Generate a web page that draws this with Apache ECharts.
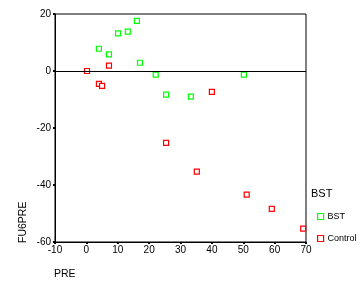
<!DOCTYPE html>
<html><head><meta charset="utf-8">
<script src="https://cdn.jsdelivr.net/npm/echarts@6/dist/echarts.min.js"></script>
<style>html,body{margin:0;padding:0;background:#fff}#c{width:362px;height:290px}</style>
</head><body><div id="c"></div>
<script>
var xTicks = [-10, 0, 10, 20, 30, 40, 50, 60, 70];
var yTicks = [-60, -40, -20, 0, 20];
var bstPoints = [[4.0, 7.8], [7.2, 5.8], [10.1, 13.2], [13.2, 13.8], [16.1, 17.6], [17.1, 2.9], [22.1, -1.3], [25.4, -8.3], [33.3, -9.0], [50.2, -1.3]];
var controlPoints = [[0.2, 0.0], [4.0, -4.5], [5.0, -5.2], [7.2, 1.9], [25.4, -25.2], [35.2, -35.3], [40.0, -7.3], [51.1, -43.4], [59.1, -48.4], [69.1, -55.3]];
var seriesNames = ['BST', 'Control'];
var legendTitle = 'BST';
var xName = 'PRE';
var yName = 'FU6PRE';

var font = 'Liberation Sans, Arial, sans-serif';
var chart = echarts.init(document.getElementById('c'), null, {renderer: 'canvas'});
function mk(name, data, color) {
  return {
    name: name, type: 'scatter', data: data, symbol: 'rect', symbolSize: 5,
    itemStyle: {color: '#fff', borderColor: color, borderWidth: 1.2, opacity: 1},
    emphasis: {disabled: true}, animation: false, z: 3
  };
}
var s1 = mk(seriesNames[0], bstPoints, '#00ff00');
s1.markLine = {silent: true, symbol: 'none', label: {show: false},
  lineStyle: {color: '#000', width: 1, type: 'solid'}, data: [{yAxis: 0}], animation: false};
var s2 = mk(seriesNames[1], controlPoints, '#ff0000');
chart.setOption({
  animation: false,
  backgroundColor: '#fff',
  grid: {left: 55, right: 56, top: 14, bottom: 48, show: true, borderColor: '#000', borderWidth: 1, backgroundColor: 'transparent'},
  xAxis: {
    type: 'value', min: xTicks[0], max: xTicks[xTicks.length - 1], interval: 10,
    axisLine: {onZero: false, lineStyle: {color: '#000', width: 1}},
    axisTick: {show: true, length: 2, lineStyle: {color: '#000', width: 2}},
    axisLabel: {color: '#000', fontSize: 10, fontFamily: font, margin: 3},
    splitLine: {show: false}
  },
  yAxis: {
    type: 'value', min: yTicks[0], max: yTicks[yTicks.length - 1], interval: 20,
    axisLine: {onZero: false, lineStyle: {color: '#000', width: 1}},
    axisTick: {show: true, length: 2, lineStyle: {color: '#000', width: 2}},
    axisLabel: {color: '#000', fontSize: 10, fontFamily: font, margin: 4},
    splitLine: {show: false}
  },
  title: {text: legendTitle, left: 311, top: 188, textStyle: {fontSize: 11, fontWeight: 'normal', color: '#000', fontFamily: font}, padding: 0},
  legend: {
    orient: 'vertical', left: 317, top: 212, itemWidth: 6, itemHeight: 6, itemGap: 13, padding: 0,
    textStyle: {fontSize: 9, color: '#000', fontFamily: font, padding: [0, 0, 0, -1]},
    data: [
      {name: seriesNames[0], icon: 'rect', itemStyle: {color: '#fff', borderColor: '#00ff00', borderWidth: 1.2}},
      {name: seriesNames[1], icon: 'rect', itemStyle: {color: '#fff', borderColor: '#ff0000', borderWidth: 1.2}}
    ]
  },
  graphic: [
    {type: 'text', left: 54, top: 269, style: {text: xName, fontSize: 10.5, fill: '#000', fontFamily: font}},
    {type: 'text', x: 18, y: 243, rotation: Math.PI / 2, style: {text: yName, fontSize: 10.5, fill: '#000', fontFamily: font, align: 'left', verticalAlign: 'top'}}
  ],
  series: [s1, s2]
});
</script></body></html>
